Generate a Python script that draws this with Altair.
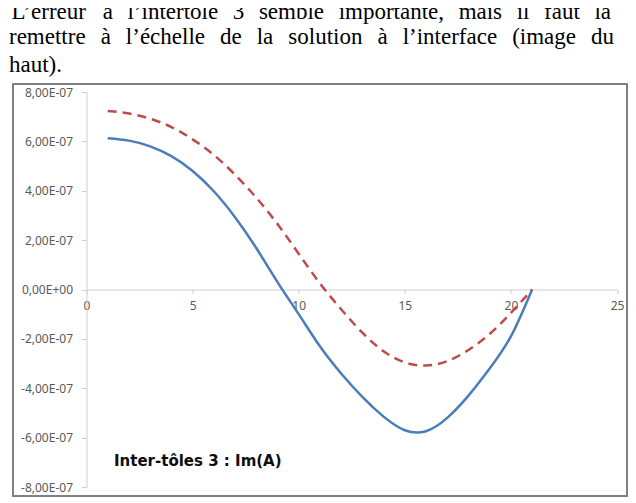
import altair as alt
import pandas as pd

# ---- data ----
x_vals = [1, 2, 3, 4, 5, 6, 7, 8, 9, 10, 11, 12, 13, 14, 15, 16, 17, 18, 19, 20, 21]
blue_vals = [6.13e-7, 6.03e-7, 5.80e-7, 5.40e-7, 4.80e-7, 3.98e-7, 2.93e-7, 1.68e-7, 0.30e-7,
             -1.00e-7, -2.30e-7, -3.40e-7, -4.35e-7, -5.15e-7, -5.70e-7, -5.74e-7, -5.20e-7,
             -4.30e-7, -3.20e-7, -1.90e-7, 0.0]
red_vals = [7.23e-7, 7.13e-7, 6.92e-7, 6.58e-7, 6.08e-7, 5.45e-7, 4.65e-7, 3.72e-7, 2.65e-7,
            1.45e-7, 0.25e-7, -0.80e-7, -1.75e-7, -2.50e-7, -2.95e-7, -3.08e-7, -2.90e-7,
            -2.45e-7, -1.80e-7, -0.95e-7, 0.0]
series_names = ["solide", "pointillé"]
x_ticks = [0, 5, 10, 15, 20, 25]
y_ticks = [-8e-7, -6e-7, -4e-7, -2e-7, 0, 2e-7, 4e-7, 6e-7, 8e-7]
chart_title = "Inter-tôles 3 : Im(A)"
paragraph = [
    "L\u2019erreur à l\u2019intertôle 3 semble importante, mais il faut la",
    "remettre à l\u2019échelle de la solution à l\u2019interface (image du",
    "haut).",
]

df = pd.DataFrame({
    "x": x_vals + x_vals,
    "y": blue_vals + red_vals,
    "s": [series_names[0]] * len(x_vals) + [series_names[1]] * len(x_vals),
})

W, H = 530.5, 395
PAD_L, PAD_T = 78.5, 84

# ---- justified paragraph layout (Times / Liberation Serif metrics) ----
FS = 23
times_w = {" ": 250, "a": 444, "b": 500, "c": 444, "d": 500, "e": 444, "f": 333, "g": 500,
           "h": 500, "i": 278, "l": 278, "m": 778, "n": 500, "o": 500, "p": 500, "r": 333,
           "s": 389, "t": 278, "u": 500, "L": 611, "\u2019": 333, "à": 444, "é": 444,
           "ô": 500, "3": 500, ",": 250, "(": 333, ")": 333, ".": 250}


def wwidth(w):
    return sum(times_w.get(c, 500) for c in w) * FS / 1000.0


line_start = [11.5, 9, 9]          # page x
line_end = [611, 614, None]        # page x (None: not justified)
line_base = [18.5, 44, 71.7]       # page y (baseline)
rows = []
for i, line in enumerate(paragraph):
    words = line.split(" ")
    if line_end[i] is None:
        rows.append({"w": line, "px": line_start[i] - 8, "py": line_base[i] - 8})
        continue
    total = sum(wwidth(w) for w in words)
    gap = (line_end[i] - line_start[i] - total) / (len(words) - 1)
    cx = line_start[i]
    for w in words:
        rows.append({"w": w, "px": cx - 8, "py": line_base[i] - 8})
        cx += wwidth(w) + gap
words_df = pd.DataFrame(rows)
words_df["px"] = words_df["px"] - PAD_L
words_df["py"] = words_df["py"] - PAD_T

xscale = alt.Scale(domain=[0, 25], nice=False, zero=False)
yscale = alt.Scale(domain=[-8e-7, 8e-7], nice=False)

y_label_expr = ("datum.value == 0 ? '0,00E+00' : (datum.value < 0 ? '-' : '') + "
                "replace(format(abs(datum.value) * 1e7, '.2f'), '.', ',') + 'E-07'")

base = alt.Chart(df)

blue = base.transform_filter(alt.datum.s == series_names[0]).mark_line(
    color="#4a7ebb", strokeWidth=2.5, interpolate="natural"
).encode(
    x=alt.X("x:Q", scale=xscale, axis=alt.Axis(
        values=x_ticks, offset=-H / 2, title=None, grid=False, domainColor="#cfcfcf",
        tickColor="#cfcfcf", tickSize=4, labelPadding=7, labelColor="#595959",
        labelFont="Noto Sans", labelFontSize=12, labelFlush=False)),
    y=alt.Y("y:Q", scale=yscale, axis=alt.Axis(
        values=y_ticks, title=None, grid=False, domainColor="#cfcfcf",
        tickColor="#cfcfcf", tickSize=5, labelPadding=9, labelColor="#595959",
        labelFont="Noto Sans", labelFontSize=12, labelExpr=y_label_expr)),
)

red = base.transform_filter(alt.datum.s == series_names[1]).mark_line(
    color="#be4b48", strokeWidth=2.5, strokeDash=[9, 6], interpolate="natural"
).encode(x="x:Q", y="y:Q")

one = pd.DataFrame({"t": [chart_title]})
border = alt.Chart(one).mark_rect(fill=None, stroke="#808080", strokeWidth=2).encode(
    x=alt.value(13 - 8 - PAD_L), x2=alt.value(627 - 8 - PAD_L),
    y=alt.value(84 - 8 - PAD_T), y2=alt.value(496 - 8 - PAD_T)
)

title_txt = alt.Chart(one).mark_text(
    align="left", baseline="middle", font="DejaVu Sans", fontSize=15, fontWeight="bold",
    color="#0d0d0d"
).encode(text="t:N", x=alt.value(114 - 8 - PAD_L), y=alt.value(461 - 8 - PAD_T))

para = alt.Chart(words_df).mark_text(
    align="left", baseline="alphabetic", font="Liberation Serif", fontSize=FS, color="#000000"
).encode(text="w:N", x=alt.X("px:Q", scale=None), y=alt.Y("py:Q", scale=None))

chart = alt.layer(border, blue, red, title_txt, para).properties(
    width=W, height=H, autosize=alt.AutoSizeParams(type="none"),
    padding={"left": PAD_L, "top": PAD_T, "right": 620 - PAD_L - W, "bottom": 490 - PAD_T - H},
    background="white",
).configure_view(stroke=None)

chart.save("out.html", embed_options={"renderer": "svg", "actions": False})
